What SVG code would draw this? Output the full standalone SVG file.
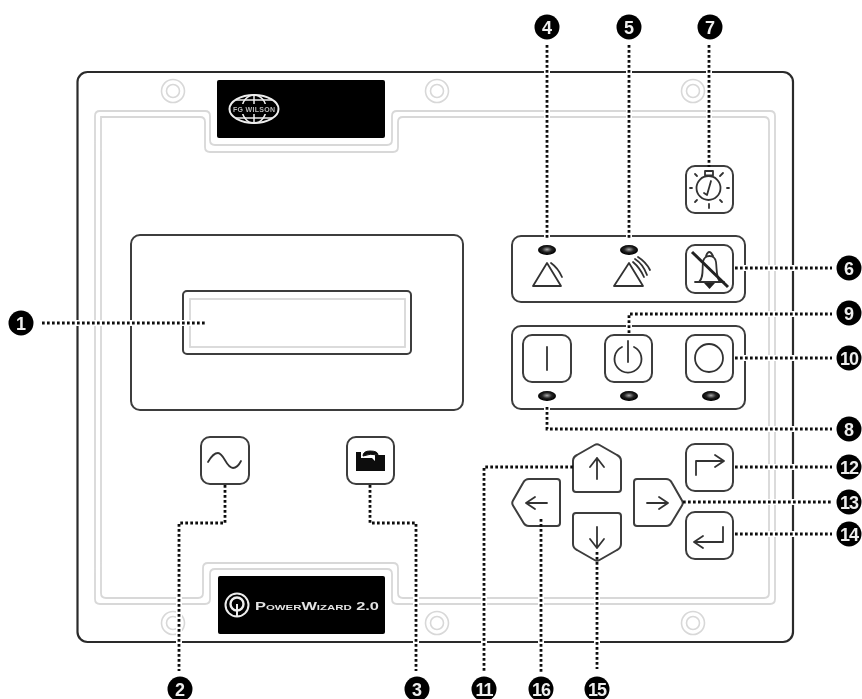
<svg xmlns="http://www.w3.org/2000/svg" width="862" height="699" viewBox="0 0 862 699">
<style>
.ln{fill:none;stroke:#3c3c3c;stroke-width:2;stroke-linejoin:round;stroke-linecap:round}
.bg{fill:#fff}
.lt{fill:none;stroke:#d8d8d8;stroke-width:1.800}
.sc{fill:#fff;stroke:#d8d8d8;stroke-width:1.600}
.dot{fill:none;stroke:#111;stroke-width:2.800;stroke-dasharray:2.700 2.300}
.halo{fill:none;stroke:#fff;stroke-width:6}
.num{fill:#eee;font:bold 18px "Liberation Sans",Arial,sans-serif;text-anchor:middle}
.two{letter-spacing:-1px}
.ic{fill:none;stroke:#333;stroke-width:1.800;stroke-linecap:round;stroke-linejoin:round}
</style>
<defs>
<radialGradient id="led" cx="0.5" cy="0.45" r="0.5"><stop offset="0" stop-color="#aaa"/><stop offset="0.55" stop-color="#222"/><stop offset="1" stop-color="#000"/></radialGradient>
<filter id="soft" x="-2%" y="-2%" width="104%" height="104%"><feGaussianBlur stdDeviation="0.6"/></filter>
</defs>
<rect width="862" height="699" fill="#fff"/>
<g filter="url(#soft)">
<g id="panel">
<rect x="77.500" y="72" width="715.500" height="570" rx="10" class="bg" stroke="#2c2c2c" stroke-width="2.200"/>
<path class="lt" d="M101 117H200Q205 117 205 122V147Q205 152 210 152H393Q398 152 398 147V122Q398 117 403 117H764Q769 117 769 122V593Q769 598 764 598H403Q398 598 398 593V568Q398 563 393 563H208Q203 563 203 568V593Q203 598 198 598H106Q101 598 101 593Z"/>
<path class="lt" d="M95 116Q95 111 100 111H205Q210 111 210 116V140Q210 145 215 145H387Q392 145 392 140V116Q392 111 397 111H770Q775 111 775 116V599Q775 604 770 604H397Q392 604 392 599V574Q392 569 387 569H215Q210 569 210 574V599Q210 604 205 604H100Q95 604 95 599Z"/>
<circle class="sc" cx="173" cy="91" r="11.500"/><circle class="sc" cx="173" cy="91" r="6.500"/>
<circle class="sc" cx="437" cy="91" r="11.500"/><circle class="sc" cx="437" cy="91" r="6.500"/>
<circle class="sc" cx="693" cy="91" r="11.500"/><circle class="sc" cx="693" cy="91" r="6.500"/>
<circle class="sc" cx="173" cy="623" r="11.500"/><circle class="sc" cx="173" cy="623" r="6.500"/>
<circle class="sc" cx="437" cy="623" r="11.500"/><circle class="sc" cx="437" cy="623" r="6.500"/>
<circle class="sc" cx="693" cy="623" r="11.500"/><circle class="sc" cx="693" cy="623" r="6.500"/>
</g>
<g id="badge-top">
<rect x="217" y="80" width="168" height="58" rx="2" fill="#000"/>
<g fill="none" stroke="#eee" stroke-width="1.500">
<ellipse cx="254" cy="109" rx="24.500" ry="14" stroke-width="2"/>
<ellipse cx="254" cy="109" rx="12" ry="14"/>
<path d="M254 95V123M236 100H272M236 118H272"/>
</g>
<rect x="231" y="104" width="46" height="10" rx="5" fill="#000"/>
<text x="254" y="111.500" font-family="'Liberation Sans',Arial,sans-serif" font-size="7" font-weight="bold" fill="#bbb" text-anchor="middle" textLength="42">FG WILSON</text>
</g>
<g id="badge-bottom">
<rect x="218" y="576" width="167" height="58" rx="2" fill="#000"/>
<circle cx="237" cy="605" r="11.500" fill="none" stroke="#eee" stroke-width="2"/>
<circle cx="237" cy="604" r="6.500" fill="none" stroke="#eee" stroke-width="2.400"/>
<path d="M237 604V617" stroke="#eee" stroke-width="2"/>
<text x="255" y="610" font-family="'Liberation Sans',Arial,sans-serif" font-size="11.500" font-weight="bold" fill="#e4e4e4" style="font-variant:small-caps" textLength="124" lengthAdjust="spacingAndGlyphs">PowerWizard 2.0</text>
</g>
<g id="display">
<rect class="ln" x="131" y="235" width="332" height="175" rx="9"/>
<rect class="ln" x="183" y="291" width="228" height="63" rx="4"/>
<rect x="190" y="299" width="215" height="48" fill="none" stroke="#d8d8d8" stroke-width="1.800"/>
</g>
<g id="btn-ac">
<rect class="ln" x="201" y="437" width="48" height="47" rx="9"/>
<path class="ic" d="M208 462C212 455 215 453 218 453C224 453 226 468 233 468C237 468 239 465 241 461"/>
</g>
<g id="btn-tool">
<rect class="ln" x="347" y="437" width="47" height="47" rx="9"/>
<path fill="#111" d="M356 452H361V458H372L375 461V455H385V471H356Z"/>
<path fill="#111" stroke="#111" stroke-width="1" d="M363 456Q363 451 370 451Q378 451 378 455Q370 453 363 456Z"/>
</g>
<g id="btn-clock">
<rect class="ln" x="686" y="166" width="47" height="47" rx="9"/>
<circle class="ic" cx="708.500" cy="188" r="12"/>
<rect class="ic" x="705" y="171" width="8" height="4.500"/>
<path class="ic" d="M692 188H690M727 188H729M709 204V208M697 176L695 174M720 176L723 173M697 200L695 202M720 200L722 202M711 181L707 195L704 193"/>
</g>
<g id="alarm-panel">
<rect class="ln" x="512" y="236" width="233" height="66" rx="9"/>
<ellipse cx="547" cy="250" rx="9" ry="5" fill="url(#led)"/>
<ellipse cx="629" cy="250" rx="9" ry="5" fill="url(#led)"/>
<path class="ic" d="M547 263L561 286H533Z"/>
<path class="ic" d="M551 263Q558 268 562 277"/>
<path class="ic" d="M629 263L643 286H614Z"/>
<path class="ic" d="M633 262Q640 268 644 277M635 259Q643 264 647 275M638 257Q646 262 650 270"/>
<rect class="ln" x="686" y="245" width="47" height="48" rx="9"/>
<path class="ic" d="M695 282H724M699 282C704 277 702 270 703 262C704 254 715 254 716 262C717 270 716 277 720 282M706 256Q709 248 713 256"/>
<path fill="#222" d="M704 283H715L709.500 289Z"/>
<path d="M692 252L728 287" fill="none" stroke="#222" stroke-width="3"/>
</g>
<g id="mode-panel">
<rect class="ln" x="512" y="326" width="233" height="83" rx="9"/>
<rect class="ln" x="523" y="335" width="48" height="47" rx="9"/>
<path class="ic" d="M547 347V370"/>
<rect class="ln" x="605" y="335" width="47" height="47" rx="9"/>
<path class="ic" d="M622 347A13.500 13.500 0 1 0 634 347M628 341V362"/>
<rect class="ln" x="686" y="335" width="47" height="47" rx="9"/>
<circle class="ic" cx="709" cy="358" r="14"/>
<ellipse cx="547" cy="396" rx="9" ry="5" fill="url(#led)"/>
<ellipse cx="629" cy="396" rx="9" ry="5" fill="url(#led)"/>
<ellipse cx="711" cy="396" rx="9" ry="5" fill="url(#led)"/>
</g>
<g id="btn-up">
<path class="ln" d="M594.500 445Q597 443.500 599.500 445L617 455Q621 457 621 461V489Q621 492 618 492H576Q573 492 573 489V461Q573 457 577 455Z"/>
<path class="ic" d="M597 479V458M590 467L597 458L604 467"/>
</g>
<g id="btn-left">
<path class="ln" d="M513 500.500L523 483Q525 479 529 479H557Q560 479 560 482V523Q560 526 557 526H529Q525 526 523 522L513 505.500Q511.500 503 513 500.500Z"/>
<path class="ic" d="M547 503H526M535 497L526 503L535 509"/>
</g>
<g id="btn-right">
<path class="ln" d="M682 500.500L672 483Q670 479 666 479H637Q634 479 634 482V523Q634 526 637 526H666Q670 526 672 522L682 505.500Q683.500 503 682 500.500Z"/>
<path class="ic" d="M647 503H668M659 497L668 503L659 509"/>
</g>
<g id="btn-down">
<path class="ln" d="M594.500 560Q597 561.500 599.500 560L617 550Q621 548 621 544V516Q621 513 618 513H576Q573 513 573 516V544Q573 548 577 550Z"/>
<path class="ic" d="M597 527V548M590 539L597 548L604 539"/>
</g>
<g id="btn-next">
<rect class="ln" x="686" y="444" width="47" height="47" rx="9"/>
<path class="ic" d="M696 475V461H724M715 455L724 461L715 467"/>
</g>
<g id="btn-enter">
<rect class="ln" x="686" y="512" width="47" height="47" rx="9"/>
<path class="ic" d="M723 527V542H694M703 536L694 542L703 548"/>
</g>
<g id="connectors">
<path class="halo" d="M42 323H205M225 488V523H179V671M370 488V523H416V671M570 467H484V672M541 530V672M597 564V669M547 45V238M629 45V238M709 45V165M737 268H832M629 331V314H832M737 358H832M547 405V429H832M737 467H832M687 502H832M737 534H832"/>
<path class="dot" d="M42 323H205"/>
<path class="dot" d="M225 485V523H179V671"/>
<path class="dot" d="M370 485V523H416V671"/>
<path class="dot" d="M573 467H484V672"/>
<path class="dot" d="M541 519V672"/>
<path class="dot" d="M597 552V669"/>
<path class="dot" d="M547 45V240"/>
<path class="dot" d="M629 45V240"/>
<path class="dot" d="M709 45V167"/>
<path class="dot" d="M735 268H832"/>
<path class="dot" d="M629 333V314H832"/>
<path class="dot" d="M735 358H832"/>
<path class="dot" d="M547 407V429H832"/>
<path class="dot" d="M735 467H832"/>
<path class="dot" d="M683 502H832"/>
<path class="dot" d="M735 534H832"/>
</g>
<g id="n1"><circle cx="21" cy="323" r="12.500"/><text class="num" x="21" y="329.500">1</text></g>
<g id="n2"><circle cx="180" cy="689" r="12.500"/><text class="num" x="180" y="695.500">2</text></g>
<g id="n3"><circle cx="417" cy="689" r="12.500"/><text class="num" x="417" y="695.500">3</text></g>
<g id="n4"><circle cx="547" cy="27" r="12.500"/><text class="num" x="547" y="33.500">4</text></g>
<g id="n5"><circle cx="629" cy="27" r="12.500"/><text class="num" x="629" y="33.500">5</text></g>
<g id="n6"><circle cx="849" cy="268" r="12.500"/><text class="num" x="849" y="274.500">6</text></g>
<g id="n7"><circle cx="710" cy="27" r="12.500"/><text class="num" x="710" y="33.500">7</text></g>
<g id="n8"><circle cx="849" cy="429" r="12.500"/><text class="num" x="849" y="435.500">8</text></g>
<g id="n9"><circle cx="849" cy="313" r="12.500"/><text class="num" x="849" y="319.500">9</text></g>
<g id="n10"><circle cx="849" cy="358" r="12.500"/><text class="num two" x="849" y="364.500">10</text></g>
<g id="n11"><circle cx="484" cy="689" r="12.500"/><text class="num two" x="484" y="695.500">11</text></g>
<g id="n12"><circle cx="849" cy="467" r="12.500"/><text class="num two" x="849" y="473.500">12</text></g>
<g id="n13"><circle cx="849" cy="502" r="12.500"/><text class="num two" x="849" y="508.500">13</text></g>
<g id="n14"><circle cx="849" cy="534" r="12.500"/><text class="num two" x="849" y="540.500">14</text></g>
<g id="n15"><circle cx="597" cy="689" r="12.500"/><text class="num two" x="597" y="695.500">15</text></g>
<g id="n16"><circle cx="541" cy="689" r="12.500"/><text class="num two" x="541" y="695.500">16</text></g>
</g>
</svg>
